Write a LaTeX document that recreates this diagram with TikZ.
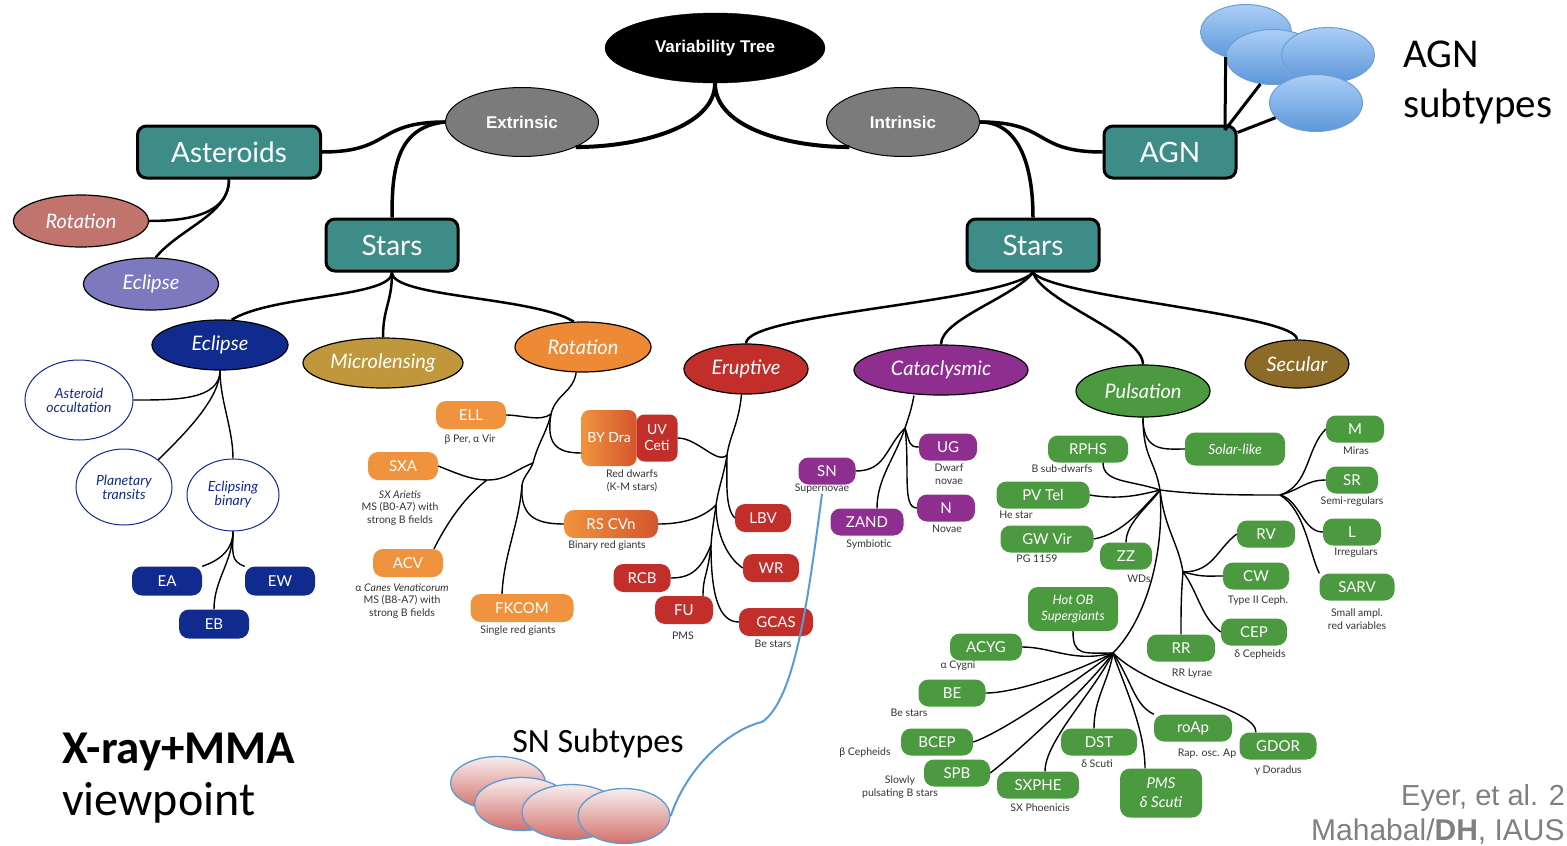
\documentclass[tikz,border=0pt]{standalone}
\usepackage{fontspec}
\setmainfont{Lato}
\newfontfamily\arialfont{Liberation Sans}
\newfontfamily\calibrifont{Carlito}
\usetikzlibrary{shapes.geometric}
\definecolor{tealc}{HTML}{3E8C88}
\definecolor{greyc}{HTML}{7B7B7B}
\definecolor{pinkc}{HTML}{C1736E}
\definecolor{lavc}{HTML}{7C79BE}
\definecolor{navyc}{HTML}{112A8E}
\definecolor{goldc}{HTML}{C0973A}
\definecolor{orangec}{HTML}{EE8A36}
\definecolor{leafor}{HTML}{F0933E}
\definecolor{bydark}{HTML}{D4552C}
\definecolor{redc}{HTML}{C22F2A}
\definecolor{purpc}{HTML}{8E2F8F}
\definecolor{greenc}{HTML}{4C9A40}
\definecolor{brownc}{HTML}{8C6A27}
\definecolor{sntop}{HTML}{F8EEEE}
\definecolor{snbot}{HTML}{D2706B}
\definecolor{agntop}{HTML}{ABCFF7}
\definecolor{agnbot}{HTML}{5D96D9}
\definecolor{agnedge}{HTML}{6E9DD3}
\definecolor{snblue}{HTML}{5B9BD5}
\definecolor{graytext}{HTML}{808080}
\newcommand{\fsz}[1]{\fontsize{#1}{#1}\selectfont}

\begin{document}
\begin{tikzpicture}[x=1pt,y=-1pt]
\tikzstyle{rootnode}=[ellipse,draw=black,fill=black,text=white,font=\arialfont\bfseries\fsz{17},minimum width=220,minimum height=70,inner sep=0pt]
\tikzstyle{kindnode}=[ellipse,draw=black,line width=1pt,fill=greyc,text=white,font=\arialfont\bfseries\fsz{17},minimum width=153,minimum height=69,inner sep=0pt]
\tikzstyle{groupbox}=[rectangle,rounded corners=9pt,draw=black,line width=3pt,fill=tealc,text=white,font=\fsz{28},minimum height=52,inner sep=0pt]
\tikzstyle{classnode}=[ellipse,draw=black,line width=1.2pt,text=white,font=\itshape\fsz{20},minimum height=50,inner sep=0pt]
\tikzstyle{opennode}=[ellipse,draw=navyc,line width=1pt,fill=white,text=navyc,font=\itshape\fontsize{14}{14}\selectfont,align=center,inner sep=0pt]
\tikzstyle{leaf}=[rectangle,rounded corners=10pt,text=white,font=\fsz{15},minimum height=28,inner sep=0pt]
\tikzstyle{sublabel}=[text=black!80,font=\fontsize{10.5}{12.5}\selectfont,align=center,inner sep=0pt]
\tikzstyle{subell}=[ellipse,draw=snblue,line width=1.3pt,top color=sntop,bottom color=snbot,minimum width=95,minimum height=53,inner sep=0pt]
\tikzstyle{agnell}=[ellipse,draw=agnedge,line width=1pt,top color=agntop,bottom color=agnbot,minimum width=93,minimum height=55,inner sep=0pt]
\tikzstyle{trunk}=[line width=3.5pt]
\tikzstyle{branch}=[line width=2.5pt]
\tikzstyle{twig}=[line width=1.4pt]
\useasboundingbox (0,0) rectangle (1567,846);

% top of the tree
\node[rootnode] (vt) at (715,48) {Variability Tree};
\node[kindnode] (ext) at (522,122) {Extrinsic};
\node[kindnode] (int) at (903,122) {Intrinsic};
\node[groupbox,minimum width=183] (ast) at (229,152) {Asteroids};
\node[groupbox,minimum width=132] (starsL) at (392,245) {Stars};
\node[groupbox,minimum width=132] (agn) at (1170,152) {AGN};
\node[groupbox,minimum width=132] (starsR) at (1033,245) {Stars};

% classes
\node[classnode,fill=pinkc,minimum width=135,minimum height=52] (rotA) at (81,221) {Rotation};
\node[classnode,fill=lavc,minimum width=135,minimum height=52] (eclA) at (151,284) {Eclipse};
\node[classnode,fill=navyc,minimum width=136] (eclS) at (220,345) {Eclipse};
\node[classnode,fill=goldc,minimum width=160] (micro) at (383,363) {Microlensing};
\node[classnode,fill=orangec,minimum width=136] (rotS) at (583,347) {Rotation};
\node[classnode,fill=redc,minimum width=124] (erupt) at (746,369) {Eruptive};
\node[classnode,fill=purpc,minimum width=174] (cata) at (941,370) {Cataclysmic};
\node[classnode,fill=greenc,minimum width=134,minimum height=52] (puls) at (1143,391) {Pulsation};
\node[classnode,fill=brownc,minimum width=104,minimum height=48] (secu) at (1297,364) {Secular};

% eclipse family
\node[opennode,minimum width=108,minimum height=80] (aocc) at (79,400) {Asteroid\\occultation};
\node[opennode,minimum width=96,minimum height=76] (ptr) at (124,487) {Planetary\\transits};
\node[opennode,minimum width=92,minimum height=72] (ebin) at (233,495) {Eclipsing\\binary};
\foreach \name/\x/\y in {EA/167/581, EW/280/581, EB/214/624}
  \node[leaf,fill=navyc,minimum width=70,minimum height=29] (\name) at (\x,\y) {\name};

% leaves
\foreach \name/\x/\y/\w/\txt in {ELL/471/415/70/ELL, SXA/403/466/70/SXA, ACV/408/563/70/ACV, FKCOM/522/608/103/FKCOM}
  \node[leaf,fill=leafor,minimum width=\w] (\name) at (\x,\y) {\txt};
\node[leaf,left color=leafor,right color=bydark,minimum width=55,minimum height=56,rounded corners=8pt,font=\fsz{14}] (BYDra) at (609,438) {BY Dra};
\node[leaf,fill=redc,minimum width=41,minimum height=47,rounded corners=8pt,align=center,font=\fontsize{14}{16}\selectfont] (UVCeti) at (657,438) {UV\\Ceti};
\node[leaf,left color=leafor,right color=bydark,minimum width=94] (RSCVn) at (611,524) {RS CVn};
\foreach \name/\x/\y/\w/\txt in {LBV/763/518/56/LBV, WR/771/568/56/WR, RCB/642/578/57/RCB, FU/684/610/58/FU, GCAS/776/622/74/GCAS}
  \node[leaf,fill=redc,minimum width=\w] (\name) at (\x,\y) {\txt};
\foreach \name/\x/\y/\w/\txt in {SN/827/471/57/SN, UG/948/447/58/UG, N/946/508/58/N, ZAND/867/522/73/ZAND}
  \node[leaf,fill=purpc,minimum width=\w,minimum height=27] (\name) at (\x,\y) {\txt};
\foreach \name/\x/\y/\w/\txt in {
	RPHS/1088/449/80/RPHS,
	PVTel/1043/495/93/PV Tel,
	GWVir/1047/539/93/GW Vir,
	ZZ/1126/556/52/ZZ,
	M/1355/429/58/M,
	SR/1352/480/52/SR,
	L/1352/532/58/L,
	SARV/1357/587/75/SARV,
	RV/1266/534/58/RV,
	CW/1256/576/66/CW,
	CEP/1254/632/66/CEP,
	RR/1181/648/68/RR,
	ACYG/986/647/72/ACYG,
	BE/952/693/67/BE,
	BCEP/937/742/72/BCEP,
	SPB/957/773/66/SPB,
	SXPHE/1038/785/82/SXPHE,
	DST/1099/742/76/DST,
	roAp/1193/728/78/roAp,
	GDOR/1278/746/77/GDOR}
  \node[leaf,fill=greenc,minimum width=\w,minimum height=27] (\name) at (\x,\y) {\txt};
\node[leaf,fill=greenc,minimum width=100,minimum height=33,font=\itshape\fsz{14}] (Solar) at (1235,449) {Solar-like};
\node[leaf,fill=greenc,minimum width=90,minimum height=44,align=center,font=\itshape\fontsize{13}{16}\selectfont] (HotOB) at (1073,609) {Hot OB\\Supergiants};
\node[leaf,fill=greenc,minimum width=82,minimum height=49,align=center,font=\itshape\fontsize{15}{19}\selectfont] (PMS) at (1161,793) {PMS\\δ Scuti};

% small captions under the leaves
\foreach \name/\x/\y/\txt in {
	ELL/470/440/{β Per, α Vir},
	SXA/400/508/{\textit{SX Arietis}\\MS (B0-A7) with\\strong B fields},
	ACV/402/601/{α \textit{Canes Venaticorum}\\MS (B8-A7) with\\strong B fields},
	FKCOM/518/631/{Single red giants},
	BYDra/632/481/{Red dwarfs\\(K-M stars)},
	RSCVn/607/546/{Binary red giants},
	FU/683/636/PMS,
	GCAS/773/644/{Be stars},
	SN/822/489/Supernovae,
	UG/949/474/{Dwarf\\novae},
	N/947/529/Novae,
	ZAND/869/545/Symbiotic,
	RPHS/1062/469/{B sub-dwarfs},
	PVTel/1016/515/{He star},
	GWVir/1037/559/{PG 1159},
	ZZ/1139/579/WDs,
	M/1356/451/Miras,
	SR/1352/502/Semi-regulars,
	L/1356/553/Irregulars,
	SARV/1357/619/{Small ampl.\\red variables},
	CW/1258/601/{Type II Ceph.},
	CEP/1260/655/{δ Cepheids},
	RR/1192/674/{RR Lyrae},
	ACYG/958/666/{α Cygni},
	BE/909/713/{Be stars},
	BCEP/865/753/{β Cepheids},
	SPB/900/787/{Slowly\\pulsating B stars},
	SXPHE/1040/808/{SX Phoenicis},
	DST/1097/764/{δ Scuti},
	roAp/1207/754/{Rap. osc. Ap},
	GDOR/1278/771/{γ Doradus}}
  \node[sublabel] (lbl\name) at (\x,\y) {\txt};

% junctions
\coordinate (jR0) at (551,414);
\coordinate (jR) at (533,463);
\coordinate (jRb) at (522,485);
\coordinate (jS) at (487,480);
\coordinate (jE1) at (727,455);
\coordinate (jE2) at (716,505);
\coordinate (jE3) at (711,545);
\coordinate (jC) at (905,428);
\coordinate (jP1) at (1160,490);
\coordinate (jP2) at (1183,572);
\coordinate (jP3) at (1113,653);
\coordinate (jP4) at (1280,495);
\coordinate (jA) at (1225,130);

% top connectors
\draw[line width=4pt] (vt.south) .. controls +(0,45) and +(60,0) .. (ext.-25);
\draw[line width=4pt] (vt.south) .. controls +(0,45) and +(-60,0) .. (int.205);
\draw[trunk] (ext.west) .. controls +(-70,0) and +(70,0) .. (ast.east);
\draw[trunk] (ext.west) .. controls +(-50,5) and +(0,-45) .. (starsL.north);
\draw[trunk] (int.east) .. controls +(70,0) and +(-70,0) .. (agn.west);
\draw[trunk] (int.east) .. controls +(40,0) and +(0,-50) .. (starsR.north);

% asteroids
\draw[branch] (ast.south) .. controls +(0,30) and +(50,0) .. (rotA.east);
\draw[branch] (ast.south) .. controls +(0,35) and +(25,-30) .. (eclA.80);

% stars, extrinsic side
\draw[branch] (starsL.south) .. controls +(0,25) and +(40,-25) .. (eclS.65);
\draw[branch] (starsL.south) .. controls +(0,30) and +(0,-30) .. (micro.north);
\draw[branch] (starsL.south) .. controls +(0,25) and +(-40,-25) .. (rotS.110);
\draw[twig] (eclS.south) .. controls +(0,30) and +(40,0) .. (aocc.east);
\draw[twig] (eclS.south) .. controls +(0,30) and +(20,-20) .. (ptr.north east);
\draw[twig] (eclS.south) .. controls +(0,30) and +(0,-30) .. (ebin.north);
\draw[twig] (ebin.south) .. controls +(0,20) and +(15,-5) .. (EA.north east);
\draw[twig] (ebin.south) .. controls +(0,20) and +(-15,-5) .. (EW.north west);
\draw[twig] (ebin.south) .. controls +(0,30) and +(0,-30) .. (EB.north);
\draw[twig] (rotS.-105) .. controls +(-3,20) and +(5,-20) .. (jR0) .. controls +(-5,20) and +(5,-20) .. (jR) .. controls +(-4,10) and +(2,-10) .. (jRb) .. controls +(-3,40) and +(2,-40) .. ([xshift=-20pt]FKCOM.north);
\draw[twig] (jR0) .. controls +(-10,8) and +(15,0) .. (ELL.east);
\draw[twig] (jR0) .. controls +(-5,30) and +(-25,0) .. ([yshift=-15pt]BYDra.west);
\draw[twig] (SXA.east) .. controls +(20,8) and +(-15,0) .. (jS) .. controls +(20,0) and +(-20,8) .. (jR);
\draw[twig] (jS) .. controls +(-20,15) and +(15,-30) .. ([xshift=26pt]ACV.north);
\draw[twig] (jRb) .. controls +(-2,30) and +(-30,0) .. (RSCVn.west);

% stars, intrinsic side
\draw[branch] (starsR.south) .. controls +(-30,30) and +(0,-30) .. (erupt.north);
\draw[branch] (starsR.south) .. controls +(-20,25) and +(0,-25) .. (cata.north);
\draw[branch] (starsR.south) .. controls +(10,30) and +(0,-30) .. (puls.north);
\draw[branch] (starsR.south) .. controls +(20,25) and +(0,-25) .. (secu.north);

% eruptive
\draw[twig] (erupt.-100) .. controls +(-3,30) and +(3,-20) .. (jE1) .. controls +(-3,20) and +(3,-20) .. (jE2) .. controls +(-2,15) and +(1,-15) .. (jE3);
\draw[twig] (jE1) .. controls +(-10,10) and +(20,0) .. (UVCeti.east);
\draw[twig] (jE1) .. controls +(0,25) and +(-10,-10) .. (LBV.west);
\draw[twig] (jE2) .. controls +(-15,15) and +(20,0) .. (RSCVn.east);
\draw[twig] (jE2) .. controls +(0,30) and +(-15,-10) .. (WR.west);
\draw[twig] (jE3) .. controls +(-10,25) and +(20,0) .. (RCB.east);
\draw[twig] (jE3) .. controls +(-3,30) and +(0,-20) .. ([xshift=19pt]FU.north);
\draw[twig] (jE3) .. controls +(0,50) and +(-20,0) .. (GCAS.west);

% cataclysmic
\draw[twig] ([xshift=-27pt]cata.south) .. controls +(-3,15) and +(5,-15) .. (jC);
\draw[twig] (jC) .. controls +(-20,20) and +(30,0) .. (SN.east);
\draw[twig] (jC) .. controls +(-10,30) and +(0,-30) .. ([xshift=10pt]ZAND.north);
\draw[twig] (jC) .. controls +(5,15) and +(-10,0) .. (UG.west);
\draw[twig] (jC) .. controls +(5,40) and +(-15,0) .. (N.west);

% pulsation
\draw[twig] (puls.south) .. controls +(0,40) and +(-5,-30) .. (jP1);
\draw[twig] (puls.south) .. controls +(0,35) and +(-20,0) .. (Solar.west);
\draw[twig] ([xshift=15pt]RPHS.south) .. controls +(0,20) and +(-30,-10) .. (jP1);
\draw[twig] (PVTel.east) .. controls +(30,5) and +(-20,5) .. (jP1);
\draw[twig] (GWVir.east) .. controls +(30,-5) and +(-15,15) .. (jP1);
\draw[twig] (ZZ.north) .. controls +(0,-20) and +(-10,15) .. (jP1);
\draw[twig] (jP1) .. controls +(40,5) and +(-40,0) .. (jP4);
\draw[twig] (jP4) .. controls +(30,-10) and +(-20,20) .. (M.west);
\draw[twig] (jP4) .. controls +(20,-5) and +(-20,0) .. (SR.west);
\draw[twig] (jP4) .. controls +(20,5) and +(-20,0) .. (L.west);
\draw[twig] (jP4) .. controls +(25,15) and +(-10,-20) .. (SARV.north west);
\draw[twig] (jP1) .. controls +(5,40) and +(-5,-30) .. (jP2);
\draw[twig] (jP2) .. controls +(30,0) and +(-20,15) .. (RV.west);
\draw[twig] (jP2) .. controls +(20,5) and +(-20,0) .. (CW.west);
\draw[twig] (jP2) .. controls +(15,20) and +(-20,-15) .. (CEP.west);
\draw[twig] (jP2) .. controls +(-2,25) and +(0,-25) .. (RR.north);
\draw[twig] (jP1) .. controls +(5,70) and +(30,-30) .. (jP3);
\draw[twig] (HotOB.south) .. controls +(0,25) and +(-30,0) .. (jP3);
\draw[twig] (jP3) .. controls +(-40,10) and +(30,0) .. (ACYG.east);
\draw[twig] (jP3) .. controls +(-40,20) and +(30,0) .. (BE.east);
\draw[twig] (jP3) .. controls +(-40,30) and +(30,-10) .. (BCEP.east);
\draw[twig] (jP3) .. controls +(-30,40) and +(20,-15) .. (SPB.east);
\draw[twig] (jP3) .. controls +(-20,40) and +(0,-30) .. ([xshift=7pt]SXPHE.north);
\draw[twig] (jP3) .. controls +(-5,30) and +(0,-30) .. ([xshift=-5pt]DST.north);
\draw[twig] (jP3) .. controls +(10,30) and +(0,-40) .. ([xshift=-16pt]PMS.north);
\draw[twig] (jP3) .. controls +(20,30) and +(-20,-10) .. (roAp.north west);
\draw[twig] (jP3) .. controls +(40,40) and +(0,-25) .. ([xshift=-22pt]GDOR.north);

% AGN subtypes
\node[agnell,minimum width=91] (agn1) at (1246,32) {};
\node[agnell,minimum width=94] (agn2) at (1273,57) {};
\node[agnell] (agn3) at (1328,55) {};
\node[agnell,minimum height=57] (agn4) at (1316,103) {};
\draw[line width=3pt] (jA) -- (agn1.231);
\draw[line width=3pt] (jA) -- (agn2.245);
\draw[line width=3pt] ([yshift=-8pt]agn.north east) -- (agn4.200);
\node[font=\calibrifont\fsz{41},anchor=base west,inner sep=0pt] (agnt1) at (1403,67) {AGN};
\node[font=\calibrifont\fsz{41},anchor=base west,inner sep=0pt] (agnt2) at (1403,117) {subtypes};

% SN subtypes
\node[subell] (sn1) at (498,783) {};
\node[subell] (sn2) at (522,804) {};
\node[subell,minimum width=98,minimum height=55] (sn3) at (571,812) {};
\node[subell,minimum width=92,minimum height=55] (sn4) at (624,816) {};
\node[font=\calibrifont\fsz{34},anchor=base] (sntxt) at (598,752) {SN Subtypes};
\draw[snblue,line width=2pt] (lblSN.south) .. controls (808,600) and (795,700) .. (762,722) .. controls (735,728) and (690,760) .. (sn4.east);

% side texts
\node[font=\calibrifont\bfseries\fsz{47},anchor=base west,inner sep=0pt] (xray) at (62,763) {X-ray+MMA};
\node[font=\calibrifont\fsz{48},anchor=base west,inner sep=0pt] (viewp) at (62,815) {viewpoint};
\node[font=\arialfont\fsz{29},text=graytext,anchor=base west,inner sep=0pt] (cite1) at (1401,805) {Eyer, et al. 2};
\node[font=\arialfont\fsz{30},text=graytext,anchor=base west,inner sep=0pt] (cite2) at (1311,840) {Mahabal/\textbf{DH}, IAUS};
\end{tikzpicture}
\end{document}
